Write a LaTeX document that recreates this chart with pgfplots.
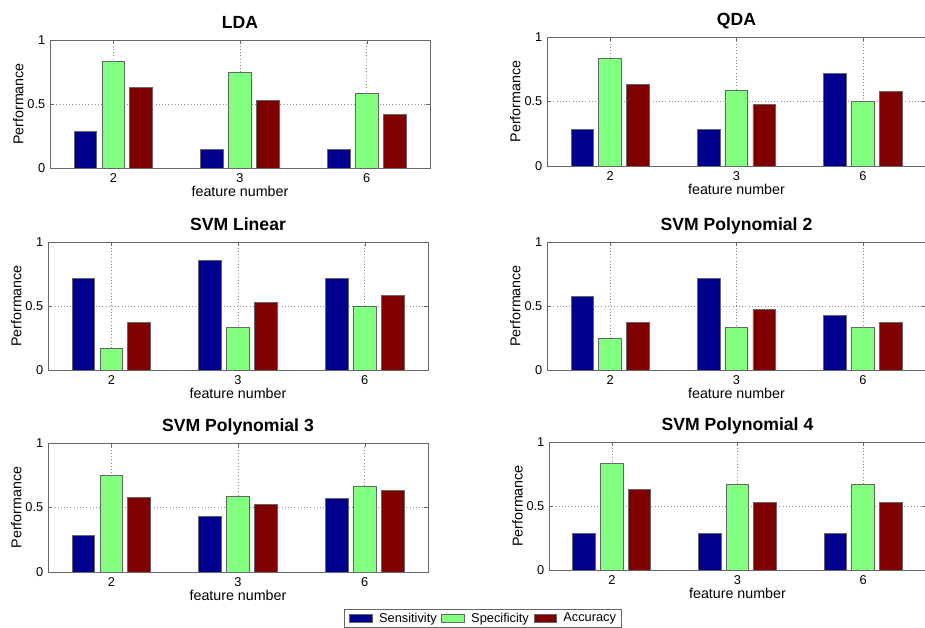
\documentclass[border=0pt]{standalone}
\usepackage{pgfplots}
\pgfplotsset{compat=1.18}
\usepackage{fontspec}
\setmainfont{Liberation Sans}
\definecolor{cSens}{RGB}{0,0,143}
\definecolor{cSpec}{RGB}{128,255,128}
\definecolor{cAcc}{RGB}{128,0,0}
\pgfplotsset{
 myax/.style={
  scale only axis,
  ymin=0,ymax=1, xmin=0.5,xmax=3.5,
  xtick={1,2,3}, xticklabels={2,3,6},
  ytick={0,0.5,1}, yticklabels={0,0.5,1},
  ymajorgrids, xmajorgrids,
  grid style={dotted, black!45, line width=0.5pt},
  axis line style={black!60, line width=0.6pt},
  tick style={black!60},
  tick align=inside,
  major tick length=3pt,
  tick label style={font=\fontsize{9.6}{11}\selectfont},
  xticklabel style={anchor=base, yshift=-11pt},
  label style={font=\fontsize{10.7}{12}\selectfont},
  title style={font=\fontsize{13.2}{15}\selectfont\bfseries, at={(axis description cs:0.5,1)}, anchor=base, yshift=2.25pt},
  xlabel={feature number},
  ylabel={Performance},
  xlabel style={at={(axis description cs:0.5,0)}, anchor=base, yshift=-21.75pt},
  ylabel style={at={(axis description cs:-0.07,0.5)}, anchor=base},
 },
 sens/.style={ybar, bar width=0.18, bar shift=-0.22, fill=cSens, draw=black!60, line width=0.6pt, area legend},
 spec/.style={ybar, bar width=0.18, bar shift=0, fill=cSpec, draw=black!60, line width=0.6pt, area legend},
 acc/.style={ybar, bar width=0.18, bar shift=0.22, fill=cAcc, draw=black!60, line width=0.6pt, area legend},
}
\begin{document}
\begin{tikzpicture}
\path[use as bounding box] (0,0) rectangle (693.75pt,471pt);
% LDA
\begin{axis}[myax, at={(37.5pt,345pt)}, anchor=south west, width=285pt, height=96pt, title={LDA}]
\addplot[sens] coordinates {(1,0.2857) (2,0.1429) (3,0.1429)};
\addplot[spec] coordinates {(1,0.8333) (2,0.75) (3,0.5833)};
\addplot[acc] coordinates {(1,0.6316) (2,0.5263) (3,0.4211)};
\end{axis}
% QDA
\begin{axis}[myax, at={(410.25pt,346.5pt)}, anchor=south west, width=284.25pt, height=96.75pt, title={QDA}]
\addplot[sens] coordinates {(1,0.2857) (2,0.2857) (3,0.7143)};
\addplot[spec] coordinates {(1,0.8333) (2,0.5833) (3,0.5)};
\addplot[acc] coordinates {(1,0.6316) (2,0.4737) (3,0.5789)};
\end{axis}
% SVM Linear
\begin{axis}[myax, at={(36pt,193.5pt)}, anchor=south west, width=285pt, height=96pt, title={SVM Linear}]
\addplot[sens] coordinates {(1,0.7143) (2,0.8571) (3,0.7143)};
\addplot[spec] coordinates {(1,0.1667) (2,0.3333) (3,0.5)};
\addplot[acc] coordinates {(1,0.3684) (2,0.5263) (3,0.5789)};
\end{axis}
% SVM Polynomial 2
\begin{axis}[myax, at={(410.25pt,193.5pt)}, anchor=south west, width=284.25pt, height=96pt, title={SVM Polynomial 2}]
\addplot[sens] coordinates {(1,0.5714) (2,0.7143) (3,0.4286)};
\addplot[spec] coordinates {(1,0.25) (2,0.3333) (3,0.3333)};
\addplot[acc] coordinates {(1,0.3684) (2,0.4737) (3,0.3684)};
\end{axis}
% SVM Polynomial 3
\begin{axis}[myax, at={(36pt,42pt)}, anchor=south west, width=285pt, height=96.75pt, title={SVM Polynomial 3},
  legend columns=3,
  legend style={at={(axis description cs:1.1447,-0.287)}, anchor=north, draw=black!60, line width=0.6pt,
    font=\fontsize{9.6}{11}\selectfont, inner xsep=3.6pt, inner ysep=2pt,
    nodes={inner sep=0.5pt},
    /tikz/every even column/.append style={column sep=3pt},
    /tikz/every odd column/.append style={column sep=4.2pt}},
  legend image code/.code={\draw[#1] (0pt,-4.4pt) rectangle (20.25pt,4.4pt);}]
\addplot[sens] coordinates {(1,0.2857) (2,0.4286) (3,0.5714)};
\addplot[spec] coordinates {(1,0.75) (2,0.5833) (3,0.6667)};
\addplot[acc] coordinates {(1,0.5789) (2,0.5263) (3,0.6316)};
\legend{Sensitivity,Specificity,Accuracy}
\end{axis}
% SVM Polynomial 4
\begin{axis}[myax, at={(411.75pt,43.5pt)}, anchor=south west, width=282.75pt, height=96pt, title={SVM Polynomial 4}]
\addplot[sens] coordinates {(1,0.2857) (2,0.2857) (3,0.2857)};
\addplot[spec] coordinates {(1,0.8333) (2,0.6667) (3,0.6667)};
\addplot[acc] coordinates {(1,0.6316) (2,0.5263) (3,0.5263)};
\end{axis}
\end{tikzpicture}
\end{document}
